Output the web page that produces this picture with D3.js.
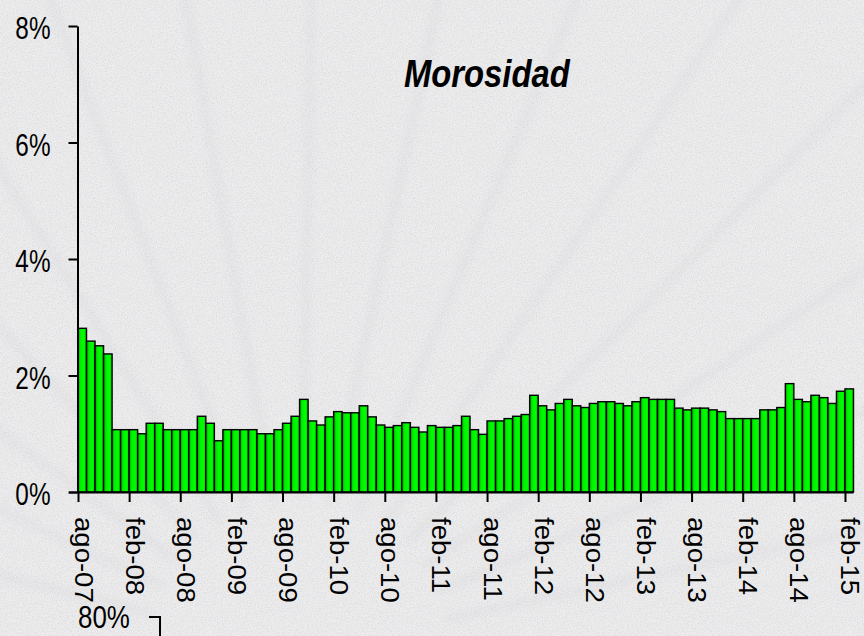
<!DOCTYPE html>
<html>
<head>
<meta charset="utf-8">
<script src="https://cdn.jsdelivr.net/npm/d3@7"></script>
<style>
  body { margin: 0; background: #ededee; }
  svg { display: block; }
</style>
</head>
<body>
<svg id="chart" width="864" height="636"></svg>
<script>
// Morosidad, monthly, ago-07 .. feb-15 (%)
const startMonth = new Date(2007, 7, 1);
const endMonth = new Date(2015, 2, 1);
const monthNames = ['ene', 'feb', 'mar', 'abr', 'may', 'jun', 'jul', 'ago', 'sep', 'oct', 'nov', 'dic'];

const morosidad = [
  2.81, 2.59, 2.51, 2.37, 1.07, 1.07, 1.07, 1.00, 1.18, 1.18,
  1.07, 1.07, 1.07, 1.07, 1.30, 1.18, 0.88, 1.07, 1.07, 1.07,
  1.07, 1.00, 1.00, 1.07, 1.18, 1.30, 1.59, 1.22, 1.15, 1.29,
  1.38, 1.36, 1.36, 1.48, 1.29, 1.15, 1.11, 1.14, 1.19, 1.11,
  1.03, 1.14, 1.11, 1.11, 1.14, 1.30, 1.07, 0.99, 1.22, 1.22,
  1.26, 1.30, 1.33, 1.66, 1.48, 1.41, 1.52, 1.59, 1.48, 1.45,
  1.52, 1.55, 1.55, 1.52, 1.48, 1.55, 1.62, 1.59, 1.59, 1.59,
  1.44, 1.41, 1.44, 1.44, 1.41, 1.38, 1.26, 1.26, 1.26, 1.26,
  1.41, 1.41, 1.45, 1.86, 1.59, 1.55, 1.66, 1.62, 1.52, 1.73,
  1.77
];

const yTicks = [0, 2, 4, 6, 8];
const tickEvery = 6;

const months = d3.timeMonth.range(startMonth, d3.timeMonth.offset(endMonth, 1));
const categories = months.map(d => `${monthNames[d.getMonth()]}-${String(d.getFullYear() % 100).padStart(2, '0')}`);

const svg = d3.select('#chart');
const defs = svg.append('defs');

// paper texture
const noise = defs.append('filter').attr('id', 'paper')
  .attr('x', 0).attr('y', 0).attr('width', '100%').attr('height', '100%');
noise.append('feTurbulence').attr('type', 'fractalNoise')
  .attr('baseFrequency', 0.8).attr('numOctaves', 2).attr('seed', 3).attr('result', 'n');
noise.append('feColorMatrix').attr('type', 'matrix')
  .attr('values', '0 0 0 0 0.55  0 0 0 0 0.55  0 0 0 0 0.58  0 0 0 -0.9 0.55');
noise.append('feComposite').attr('in2', 'SourceGraphic').attr('operator', 'in');

defs.append('filter').attr('id', 'soft')
  .append('feGaussianBlur').attr('stdDeviation', 4);

const grad = defs.append('linearGradient').attr('id', 'barFill')
  .attr('x1', '0%').attr('x2', '100%').attr('y1', '0%').attr('y2', '0%');
grad.append('stop').attr('offset', '0%').attr('stop-color', '#00a000');
grad.append('stop').attr('offset', '30%').attr('stop-color', '#00f000');
grad.append('stop').attr('offset', '70%').attr('stop-color', '#00ff00');
grad.append('stop').attr('offset', '100%').attr('stop-color', '#00c400');

svg.append('rect').attr('width', 864).attr('height', 636).attr('fill', '#ededee');

// faint shell ribs in the background
const ribs = svg.append('g').attr('filter', 'url(#soft)').attr('opacity', 0.3);
d3.range(-166, -10, 11).forEach(a => {
  const r = a * Math.PI / 180;
  ribs.append('line')
    .attr('x1', 300 + Math.cos(r) * 150).attr('y1', 650 + Math.sin(r) * 150)
    .attr('x2', 300 + Math.cos(r) * 900).attr('y2', 650 + Math.sin(r) * 900)
    .attr('stroke', '#d2d2d6').attr('stroke-width', 7);
});
svg.append('rect').attr('width', 864).attr('height', 636)
  .attr('fill', '#ededee').attr('filter', 'url(#paper)');

const x = d3.scaleLinear().domain([0, morosidad.length]).range([78, 853.5]);
const y = d3.scaleLinear().domain([0, 8]).range([492, 26]);

// bars
svg.append('g').selectAll('rect')
  .data(morosidad)
  .enter()
  .append('rect')
  .attr('x', (d, i) => x(i))
  .attr('width', (d, i) => x(i + 1) - x(i))
  .attr('y', d => y(d))
  .attr('height', d => y(0) - y(d))
  .attr('fill', 'url(#barFill)')
  .attr('stroke', '#000')
  .attr('stroke-width', 1.4);

// y axis
const yAxis = svg.append('g')
  .attr('transform', `translate(${x(0) - 0.5},0)`)
  .call(d3.axisLeft(y).tickValues(yTicks).tickSize(9).tickSizeOuter(0).tickFormat(d => d + '%'));
yAxis.select('.domain').attr('stroke-width', 2);
yAxis.selectAll('.tick line').attr('stroke-width', 2);
yAxis.selectAll('.tick text')
  .attr('x', null).attr('dy', null)
  .attr('font-family', 'Liberation Sans, Arial, sans-serif')
  .attr('font-size', 32)
  .attr('fill', '#000')
  .attr('text-anchor', 'end')
  .attr('transform', 'translate(-27,12.5) scale(0.76,1)');

// x axis
const xTickValues = d3.range(0, morosidad.length, tickEvery);
const xAxis = svg.append('g')
  .attr('transform', `translate(0,${y(0)})`)
  .call(d3.axisBottom(x).tickValues(xTickValues).tickSize(10).tickSizeOuter(0)
    .tickFormat(i => categories[i]));
xAxis.select('.domain').attr('stroke-width', 2)
  .attr('d', `M${x(0) - 9},0.5H${x(morosidad.length)}`);
xAxis.selectAll('.tick line').attr('stroke-width', 2);
xAxis.selectAll('.tick text')
  .attr('y', null).attr('dy', null)
  .attr('font-family', 'Liberation Sans, Arial, sans-serif')
  .attr('font-size', 26.5)
  .attr('fill', '#000')
  .attr('text-anchor', 'start')
  .attr('transform', 'translate(-4,25) rotate(90) scale(1.04,1)');

// title
svg.append('text')
  .attr('transform', 'translate(404,87) scale(0.83,1)')
  .attr('font-family', 'Liberation Sans, Arial, sans-serif')
  .attr('font-size', 39.5)
  .attr('font-weight', 'bold')
  .attr('font-style', 'italic')
  .text('Morosidad');

// top of the next chart, cut off by the frame
svg.append('text')
  .attr('transform', 'translate(78,628) scale(0.81,1)')
  .attr('font-family', 'Liberation Sans, Arial, sans-serif')
  .attr('font-size', 32)
  .text('80%');
svg.append('path')
  .attr('d', 'M149,617H160V636')
  .attr('fill', 'none')
  .attr('stroke', '#000')
  .attr('stroke-width', 2);
</script>
</body>
</html>
